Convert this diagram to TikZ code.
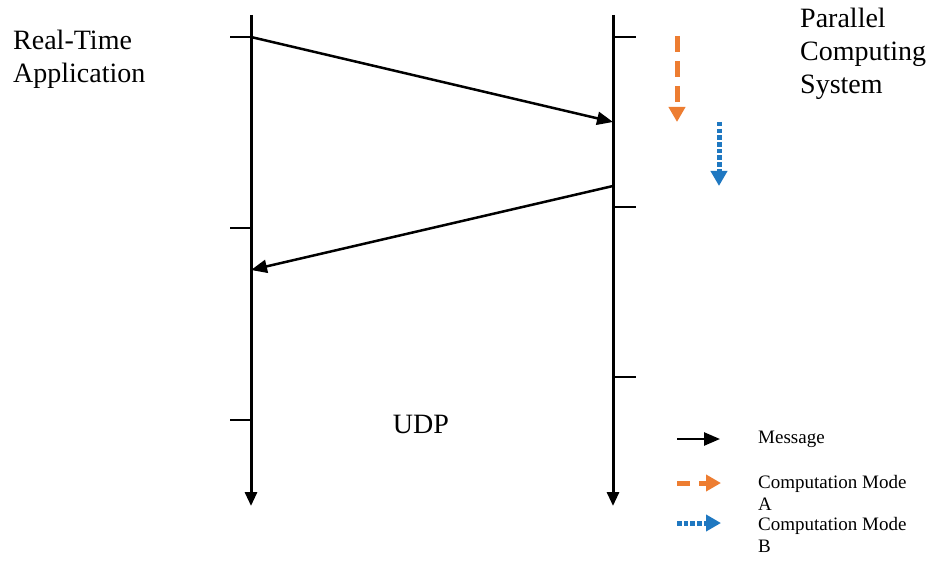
\documentclass[tikz,border=0pt]{standalone}
\usepackage{fontspec}
\setmainfont{Liberation Serif}
\usetikzlibrary{arrows.meta}
\definecolor{modeA}{RGB}{237,125,49}
\definecolor{modeB}{RGB}{31,120,193}

\begin{document}
\begin{tikzpicture}[x=1pt, y=-1pt,
    lifeline/.style={line width=3pt, -{Triangle[length=14pt, width=12pt]}},
    msg/.style={line width=2.5pt, -{Triangle[length=16pt, width=13pt]}},
    modea/.style={modeA, line width=5pt, dash pattern=on 16pt off 9pt, -{Triangle[length=15pt, width=16pt]}},
    modeb/.style={modeB, line width=5pt, dash pattern=on 4.5pt off 2.2pt, -{Triangle[length=15pt, width=16pt]}},
    tick/.style={line width=1.4pt},
    big/.style={font=\fontsize{28}{33}\selectfont, inner sep=0pt, align=left},
    small/.style={font=\fontsize{19}{22}\selectfont, inner sep=0pt, align=left}]
    \useasboundingbox (0,0) rectangle (936,561);

    % lifelines
    \coordinate (rtTop) at (251,15);
    \coordinate (rtEnd) at (251,506);
    \coordinate (pcTop) at (613,15);
    \coordinate (pcEnd) at (613,506);
    \draw[lifeline] (rtTop) -- (rtEnd);
    \draw[lifeline] (pcTop) -- (pcEnd);

    % ticks
    \foreach \t in {37, 228, 420} {
        \draw[tick] (230,\t) -- (251,\t);
    }
    \foreach \t in {37, 207, 377} {
        \draw[tick] (613,\t) -- (636,\t);
    }

    % messages
    \coordinate (req) at (251,37);
    \coordinate (reqIn) at (613,122);
    \coordinate (resp) at (613,186);
    \coordinate (respIn) at (251,270);
    \draw[msg] (req) -- (reqIn);
    \draw[msg] (resp) -- (respIn);

    % computation modes
    \coordinate (aTop) at (677,36);
    \coordinate (aEnd) at (677,122);
    \coordinate (bTop) at (719,122);
    \coordinate (bEnd) at (719,186);
    \draw[modea] (aTop) -- (aEnd);
    \draw[modeb] (bTop) -- (bEnd);

    % labels
    \node[big, anchor=north west] (rtApp) at (13,30) {Real-Time\\Application};
    \node[big, anchor=north west] (pcSys) at (800,8) {Parallel\\Computing\\System};
    \node[big] (udp) at (421,424) {UDP};

    % legend
    \coordinate (lgMsgA) at (677,439);
    \coordinate (lgMsgB) at (720,439);
    \coordinate (lgAA) at (677,483);
    \coordinate (lgAB) at (721,483);
    \coordinate (lgBA) at (677,523);
    \coordinate (lgBB) at (721,523);
    \draw[msg] (lgMsgA) -- (lgMsgB);
    \draw[modea, dash pattern=on 13pt off 9pt] (lgAA) -- (lgAB);
    \draw[modeb] (lgBA) -- (lgBB);
    \node[small, anchor=west] (lgMsg) at (758,439) {Message};
    \node[small, anchor=north west] (lgA) at (758,475) {Computation Mode\\A};
    \node[small, anchor=north west] (lgB) at (758,517) {Computation Mode\\B};
\end{tikzpicture}
\end{document}
